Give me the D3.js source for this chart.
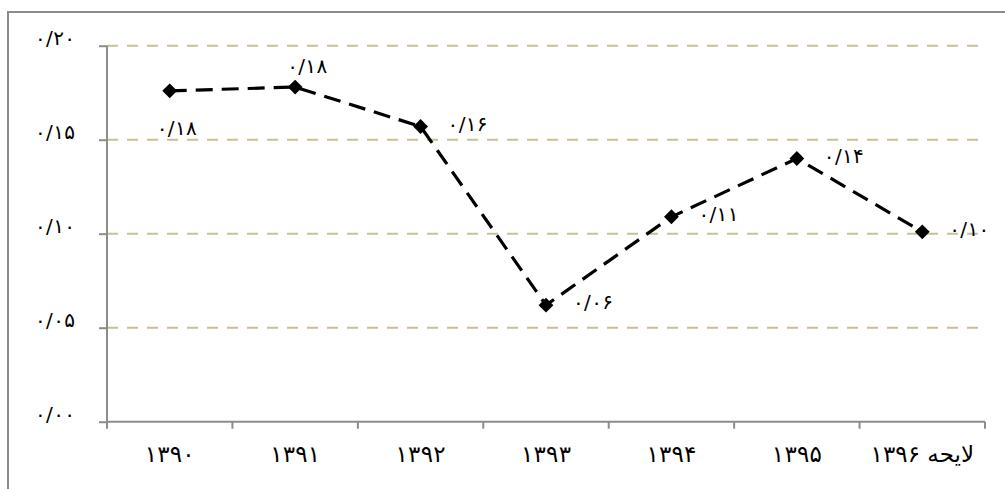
<!DOCTYPE html>
<html><head><meta charset="utf-8">
<script src="https://cdn.jsdelivr.net/npm/d3@7/dist/d3.min.js"></script>
<style>body{margin:0;background:#fff}svg{display:block}text{font-family:"DejaVu Sans",sans-serif}</style>
</head><body>
<svg id="c" width="1005" height="489"></svg>
<script>
const categories = ["۱۳۹۰","۱۳۹۱","۱۳۹۲","۱۳۹۳","۱۳۹۴","۱۳۹۵","لایحه ۱۳۹۶"];
const values = [0.176, 0.178, 0.157, 0.062, 0.109, 0.140, 0.101];
const valueLabels = ["۰/۱۸","۰/۱۸","۰/۱۶","۰/۰۶","۰/۱۱","۰/۱۴","۰/۱۰"];
const labelPlacement = ["below","above","right","right","right","right","right"];
const yTicks = [0, 0.05, 0.10, 0.15, 0.20];
const yTickLabels = ["۰/۰۰","۰/۰۵","۰/۱۰","۰/۱۵","۰/۲۰"];

const svg = d3.select("#c");
svg.append("rect").attr("x",8).attr("y",12).attr("width",1010).attr("height",500)
  .attr("fill","none").attr("stroke","#8c8c8c").attr("stroke-width",2);

const x = d3.scaleBand().domain(categories).range([107,985]).padding(0);
const y = d3.scaleLinear().domain([0,0.2]).range([421.7,45.7]);

const isDigits = s => /^[۰-۹\/]+$/.test(s);
function stretch(sel, len, spacing) {
  sel.each(function() {
    const t = d3.select(this), s = t.text();
    if (isDigits(s)) {
      t.attr("textLength", len).attr("lengthAdjust", "spacing");
    } else {
      t.text(null);
      s.split(" ").forEach((p, k) => {
        t.append("tspan").attr("letter-spacing", isDigits(p) ? spacing : 0)
          .text((k>0 ? " " : "") + p);
      });
    }
  });
}

// gridlines
svg.append("g").selectAll("line").data(yTicks.filter(d=>d>0)).join("line")
  .attr("x1",107).attr("x2",986).attr("y1",d=>y(d)).attr("y2",d=>y(d))
  .attr("stroke","#c9bf95").attr("stroke-width",2).attr("stroke-dasharray","11,9");

// y axis
const yAxis = svg.append("g").attr("transform","translate(107,0)")
  .call(d3.axisLeft(y).tickValues(yTicks).tickSize(8).tickFormat((d,i)=>yTickLabels[i]));
yAxis.select(".domain").attr("stroke","#8c8c8c").attr("stroke-width",2).attr("d","M0,"+y(0.2)+"V"+y(0));
yAxis.selectAll(".tick line").attr("stroke","#8c8c8c").attr("stroke-width",2);
yAxis.selectAll(".tick text").attr("x",-72).attr("dy","-0.05em").attr("font-size",20).attr("fill","#000")
  .attr("font-family","DejaVu Sans").attr("direction","ltr").attr("text-anchor","start")
  .call(stretch, 40, 0);

// x axis
const xAxis = svg.append("g").attr("transform","translate(0,"+y(0)+")")
  .call(d3.axisBottom(x).tickSize(0).tickPadding(24));
xAxis.select(".domain").attr("stroke","#8c8c8c").attr("stroke-width",2).attr("d","M107,0H985");
xAxis.selectAll(".tick text").attr("font-size",23).attr("fill","#000").attr("font-family","DejaVu Sans")
  .call(stretch, 50, 3);
const bounds = categories.map(c=>x(c)).concat([x(categories[categories.length-1])+x.bandwidth()]);
xAxis.append("g").selectAll("line").data(bounds).join("line")
  .attr("x1",d=>d).attr("x2",d=>d).attr("y1",0).attr("y2",7)
  .attr("stroke","#8c8c8c").attr("stroke-width",2);

const cx = d => x(d) + x.bandwidth()/2;
const pts = categories.map((c,i)=>[cx(c), y(values[i])]);

svg.append("path").datum(pts).attr("d",d3.line())
  .attr("fill","none").attr("stroke","#000").attr("stroke-width",3.2)
  .attr("stroke-dasharray","17,9");

svg.append("g").selectAll("path").data(pts).join("path")
  .attr("d",d3.symbol(d3.symbolSquare, 110)())
  .attr("transform",d=>`translate(${d[0]},${d[1]}) rotate(45)`)
  .attr("fill","#000");

svg.append("g").selectAll("text").data(pts).join("text")
  .attr("x",(d,i)=> labelPlacement[i]==="right" ? d[0]+27 : (labelPlacement[i]==="above" ? d[0]-8 : d[0]-13))
  .attr("y",(d,i)=> labelPlacement[i]==="right" ? d[1]+4 : (labelPlacement[i]==="above" ? d[1]-14 : d[1]+44))
  .attr("text-anchor","start")
  .attr("font-size",20).attr("direction","ltr")
  .text((d,i)=>valueLabels[i])
  .call(stretch, 40, 0);
</script>
</body></html>
